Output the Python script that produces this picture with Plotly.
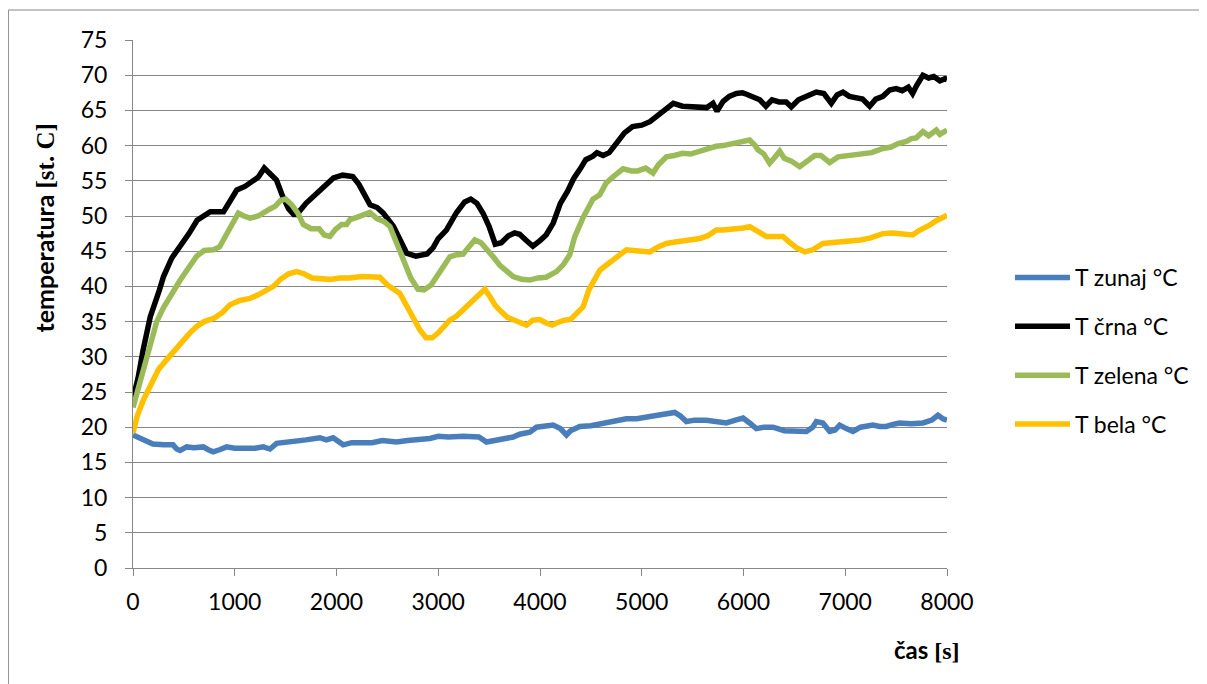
import plotly.graph_objects as go

# ---- data ----
t_zunaj = [0, 60, 101, 150, 196, 300, 393, 430, 462, 500, 527, 600, 691, 740, 789, 850, 920, 1000, 1117, 1200,
           1280, 1346, 1412, 1500, 1608, 1700, 1837, 1900, 1967, 2030, 2066, 2150, 2262, 2350, 2450, 2590, 2700,
           2800, 2917, 3000, 3100, 3245, 3400, 3474, 3550, 3650, 3736, 3800, 3900, 3965, 4060, 4129, 4200, 4260,
           4300, 4391, 4500, 4653, 4750, 4849, 4950, 5050, 5111, 5200, 5324, 5380, 5439, 5520, 5635, 5740, 5831,
           5920, 5996, 6060, 6126, 6200, 6290, 6400, 6487, 6618, 6680, 6716, 6780, 6847, 6900, 6945, 7010, 7076,
           7150, 7272, 7340, 7403, 7470, 7534, 7650, 7764, 7850, 7911, 7960, 8000]
v_zunaj = [18.9, 18.5, 18.2, 17.8, 17.6, 17.5, 17.5, 16.9, 16.7, 17.0, 17.2, 17.1, 17.2, 16.8, 16.5, 16.8, 17.2, 17.0,
           17.0, 17.0, 17.2, 16.9, 17.7, 17.8, 17.9, 18.2, 18.5, 18.2, 18.5, 17.8, 17.5, 17.8, 17.9, 17.8, 18.1,
           17.9, 18.1, 18.2, 18.4, 18.7, 18.6, 18.7, 18.6, 17.9, 18.1, 18.3, 18.6, 19.0, 19.3, 20.0, 20.1, 20.3,
           19.8, 18.9, 19.5, 20.1, 20.2, 20.6, 20.9, 21.2, 21.2, 21.5, 21.7, 21.8, 22.1, 21.6, 20.8, 21.0, 21.0,
           20.8, 20.6, 21.0, 21.3, 20.6, 19.8, 20.0, 20.0, 19.5, 19.4, 19.4, 20.0, 20.8, 20.6, 19.4, 19.6, 20.3,
           19.8, 19.4, 20.0, 20.3, 20.1, 20.1, 20.4, 20.6, 20.5, 20.6, 21.0, 21.7, 21.2, 21.0]

t_crna = [0, 50, 100, 170, 260, 300, 380, 460, 550, 630, 700, 760, 890, 950, 1020, 1100, 1180, 1230, 1290, 1350,
          1410, 1470, 1530, 1580, 1610, 1700, 1800, 1900, 1970, 2060, 2160, 2220, 2330, 2400, 2460, 2560, 2630,
          2690, 2780, 2890, 2950, 3000, 3080, 3180, 3260, 3320, 3380, 3440, 3500, 3560, 3620, 3690, 3750, 3800,
          3860, 3930, 4000, 4060, 4130, 4200, 4270, 4330, 4400, 4450, 4520, 4560, 4620, 4680, 4760, 4830, 4910,
          5000, 5080, 5150, 5230, 5310, 5400, 5480, 5570, 5640, 5700, 5740, 5800, 5860, 5930, 5990, 6030, 6100,
          6160, 6220, 6280, 6350, 6420, 6470, 6540, 6620, 6716, 6790, 6863, 6920, 6977, 7040, 7100, 7170, 7240,
          7300, 7370, 7436, 7500, 7560, 7620, 7662, 7700, 7763, 7820, 7870, 7930, 7980, 8000]
v_crna = [24.0, 27.0, 31.0, 35.7, 39.5, 41.4, 44.0, 45.6, 47.5, 49.4, 50.0, 50.6, 50.6, 52.0, 53.7, 54.2, 54.9,
          55.5, 56.8, 56.0, 55.1, 52.8, 51.0, 50.2, 50.2, 51.8, 53.2, 54.6, 55.4, 55.8, 55.6, 54.5, 51.6, 51.2,
          50.4, 48.5, 46.5, 44.7, 44.3, 44.6, 45.5, 46.8, 48.0, 50.5, 52.0, 52.4, 51.8, 50.4, 48.5, 46.0, 46.2,
          47.2, 47.6, 47.4, 46.6, 45.7, 46.5, 47.3, 49.0, 51.8, 53.5, 55.3, 56.8, 58.0, 58.5, 59.0, 58.6, 59.0,
          60.5, 61.8, 62.7, 62.9, 63.4, 64.2, 65.2, 66.0, 65.6, 65.5, 65.5, 65.4, 66.0, 64.9, 66.3, 67.0, 67.4,
          67.5, 67.3, 66.8, 66.5, 65.6, 66.5, 66.2, 66.2, 65.5, 66.5, 67.0, 67.6, 67.4, 66.0, 67.2, 67.6, 67.0,
          66.8, 66.6, 65.6, 66.6, 67.0, 67.9, 68.1, 67.8, 68.3, 67.4, 68.5, 70.0, 69.6, 69.8, 69.2, 69.5, 69.4]

t_zelena = [0, 50, 100, 160, 233, 300, 396, 460, 540, 626, 700, 789, 850, 887, 950, 1035, 1090, 1150, 1230, 1290,
            1346, 1400, 1450, 1500, 1560, 1620, 1673, 1750, 1830, 1880, 1935, 1990, 2050, 2100, 2132, 2200, 2260,
            2328, 2400, 2470, 2525, 2580, 2655, 2730, 2800, 2860, 2930, 2983, 3050, 3114, 3180, 3245, 3300, 3359,
            3420, 3474, 3540, 3605, 3680, 3736, 3820, 3900, 3980, 4060, 4162, 4230, 4293, 4340, 4424, 4480, 4520,
            4587, 4650, 4720, 4780, 4816, 4900, 4960, 5040, 5111, 5160, 5242, 5320, 5400, 5480, 5570, 5650, 5730,
            5800, 5894, 5950, 6000, 6060, 6110, 6142, 6200, 6257, 6300, 6356, 6400, 6470, 6552, 6620, 6700, 6760,
            6847, 6930, 7043, 7150, 7260, 7370, 7450, 7520, 7600, 7650, 7698, 7763, 7820, 7895, 7930, 8000]
v_zelena = [22.8, 25.5, 28.5, 31.5, 35.0, 37.0, 39.5, 40.8, 42.5, 44.3, 45.1, 45.2, 45.6, 46.6, 48.5, 50.4, 50.0,
            49.7, 50.0, 50.6, 51.0, 51.4, 52.2, 52.4, 51.6, 50.4, 48.8, 48.2, 48.2, 47.3, 47.1, 48.1, 48.8, 48.8,
            49.5, 49.8, 50.2, 50.5, 49.6, 49.2, 48.5, 46.5, 43.8, 41.2, 39.6, 39.5, 40.2, 41.4, 42.8, 44.2, 44.5,
            44.6, 45.6, 46.6, 46.2, 45.4, 44.2, 43.0, 42.0, 41.4, 41.0, 40.9, 41.2, 41.3, 42.1, 43.1, 44.5, 47.0,
            49.8, 51.5, 52.4, 53.0, 54.7, 55.6, 56.3, 56.7, 56.4, 56.4, 56.8, 56.1, 57.2, 58.4, 58.6, 58.9, 58.8,
            59.2, 59.4, 59.9, 60.0, 60.3, 60.6, 60.6, 60.8, 60.1, 59.4, 58.8, 57.5, 58.2, 59.2, 58.2, 57.8, 57.0,
            57.8, 58.6, 58.6, 57.6, 58.4, 58.6, 58.7, 59.0, 59.6, 59.8, 60.3, 60.6, 61.0, 61.1, 62.0, 61.4, 62.2,
            61.6, 62.2]

t_bela = [0, 40, 100, 167, 250, 331, 420, 500, 560, 626, 700, 800, 880, 953, 1050, 1150, 1230, 1300, 1380, 1450,
          1530, 1608, 1680, 1760, 1850, 1935, 2033, 2130, 2250, 2350, 2426, 2500, 2560, 2623, 2680, 2750, 2820,
          2880, 2940, 3000, 3060, 3114, 3180, 3260, 3330, 3400, 3458, 3510, 3560, 3605, 3680, 3750, 3820, 3867,
          3930, 3998, 4060, 4120, 4162, 4240, 4300, 4350, 4424, 4480, 4530, 4587, 4650, 4720, 4780, 4849, 4920,
          5000, 5079, 5160, 5242, 5330, 5420, 5500, 5570, 5650, 5733, 5800, 5900, 6000, 6061, 6140, 6224, 6300,
          6388, 6450, 6520, 6601, 6680, 6781, 6900, 7043, 7150, 7250, 7370, 7460, 7560, 7662, 7720, 7780, 7829,
          7890, 7950, 8000]
v_bela = [19.2, 21.5, 23.8, 25.8, 28.2, 29.6, 31.2, 32.4, 33.4, 34.3, 35.0, 35.5, 36.3, 37.4, 38.0, 38.3, 38.8,
          39.3, 40.0, 41.0, 41.8, 42.1, 41.8, 41.2, 41.0, 41.0, 41.2, 41.2, 41.4, 41.4, 41.3, 40.2, 39.6, 39.0,
          37.5, 35.5, 33.8, 32.7, 32.7, 33.4, 34.4, 35.2, 35.8, 36.9, 38.0, 38.9, 39.6, 38.5, 37.3, 36.6, 35.6,
          35.2, 34.8, 34.5, 35.2, 35.3, 34.8, 34.5, 34.8, 35.2, 35.3, 36.0, 37.1, 39.5, 41.0, 42.3, 43.0, 43.8,
          44.6, 45.2, 45.1, 45.0, 44.9, 45.6, 46.1, 46.3, 46.5, 46.6, 46.8, 47.2, 48.0, 48.0, 48.1, 48.3, 48.5,
          47.8, 47.1, 47.1, 47.1, 46.3, 45.5, 44.9, 45.2, 46.1, 46.2, 46.4, 46.6, 46.9, 47.5, 47.6, 47.4, 47.3,
          47.9, 48.3, 48.7, 49.3, 49.7, 50.1]

x_ticks = [0, 1000, 2000, 3000, 4000, 5000, 6000, 7000, 8000]
y_ticks = [0, 5, 10, 15, 20, 25, 30, 35, 40, 45, 50, 55, 60, 65, 70, 75]

series = [
    ("T zunaj °C", t_zunaj, v_zunaj, "#4A7EBB"),
    ("T črna °C", t_crna, v_crna, "#000000"),
    ("T zelena °C", t_zelena, v_zelena, "#9BBB59"),
    ("T bela °C", t_bela, v_bela, "#FFC000"),
]

FONT = "Lato, Liberation Sans, sans-serif"
GRID = "#868686"

fig = go.Figure()
for i, (name, t, v, col) in enumerate(series):
    fig.add_trace(go.Scatter(x=t, y=v, mode="lines", name=name, legendgroup=f"g{i}",
                             line=dict(color=col, width=5.5)))

fig.update_layout(
    width=1199, height=676,
    margin=dict(l=125, r=260, t=32, b=116, autoexpand=False),
    paper_bgcolor="white", plot_bgcolor="white",
    font=dict(family=FONT, size=22, color="black"),
    showlegend=True,
    legend=dict(xref="container", x=0.8357, yref="paper", y=0.591, xanchor="left", yanchor="top",
                font=dict(family=FONT, size=23, color="black"),
                tracegroupgap=16, itemwidth=55, bgcolor="rgba(0,0,0,0)"),
    xaxis=dict(range=[0, 8000], tickvals=x_ticks, ticktext=[str(v) for v in x_ticks],
               showgrid=False, zeroline=False, showline=True, linecolor=GRID, linewidth=1,
               ticks="outside", ticklen=7, tickcolor=GRID, tickwidth=1,
               tickfont=dict(family=FONT, size=23, color="black"), ticklabelstandoff=6),
    yaxis=dict(range=[0, 75], tickvals=y_ticks, ticktext=[str(v) for v in y_ticks],
               showgrid=True, gridcolor=GRID, gridwidth=1, zeroline=False,
               showline=True, linecolor=GRID, linewidth=1,
               ticks="outside", ticklen=7, tickcolor=GRID, tickwidth=1,
               tickfont=dict(family=FONT, size=23, color="black"), ticklabelstandoff=13),
    annotations=[
        dict(text="<b>temperatura </b><b><span style=\"font-family:'Liberation Serif'\">[st. C]</span></b>",
             xref="paper", yref="paper", x=-0.1093, y=0.8447, xanchor="center", yanchor="top",
             textangle=-90, showarrow=False, font=dict(family=FONT, size=25, color="black")),
        dict(text="<b>čas </b><b><span style=\"font-family:'Liberation Serif'\">[s]</span></b>",
             xref="paper", yref="paper", x=0.9754, y=-0.155, xanchor="center", yanchor="middle",
             showarrow=False, font=dict(family=FONT, size=24, color="black")),
    ],
    shapes=[
        dict(type="line", xref="paper", yref="paper", x0=-0.1531, x1=-0.1531, y0=1.0568, y1=-0.5,
             line=dict(color=GRID, width=1)),
        dict(type="line", xref="paper", yref="paper", x0=-0.1531, x1=1.5, y0=1.0568, y1=1.0568,
             line=dict(color=GRID, width=1)),
    ],
)

fig.write_html("out.html")
